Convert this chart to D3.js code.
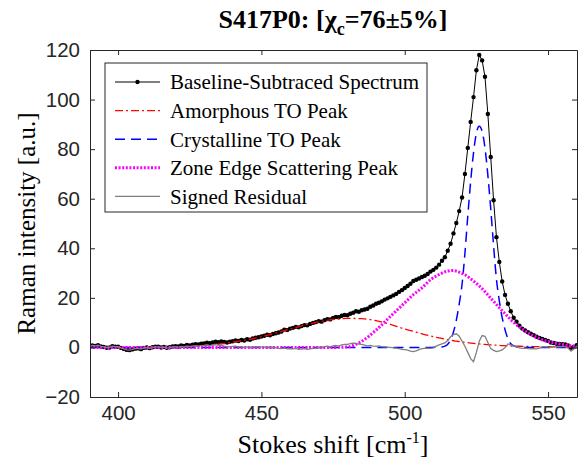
<!DOCTYPE html>
<html>
<head>
<meta charset="utf-8">
<script src="https://cdn.jsdelivr.net/npm/d3@7"></script>
<style>
  body { margin: 0; background: #fff; }
  svg { display: block; }
  .axis text { font-family: "Liberation Sans", Arial, sans-serif; font-size: 20.5px; fill: #262626; }
  .axis path, .axis line { stroke: #262626; }
  .serif { font-family: "Liberation Serif", "Times New Roman", serif; fill: #000; }
</style>
</head>
<body>
<script>
// spectrum sampled every 1 cm^-1
const shift = [
  390,391,392,393,394,395,396,397,398,399,
  400,401,402,403,404,405,406,407,408,409,
  410,411,412,413,414,415,416,417,418,419,
  420,421,422,423,424,425,426,427,428,429,
  430,431,432,433,434,435,436,437,438,439,
  440,441,442,443,444,445,446,447,448,449,
  450,451,452,453,454,455,456,457,458,459,
  460,461,462,463,464,465,466,467,468,469,
  470,471,472,473,474,475,476,477,478,479,
  480,481,482,483,484,485,486,487,488,489,
  490,491,492,493,494,495,496,497,498,499,
  500,501,502,503,504,505,506,507,508,509,
  510,511,512,513,514,515,516,517,518,519,
  520,521,522,523,524,525,526,527,528,529,
  530,531,532,533,534,535,536,537,538,539,
  540,541,542,543,544,545,546,547,548,549,
  550,551,552,553,554,555,556,557,558,559,
  560,561];

const spectrum = [
  0.5,0.8,0.6,0.9,0.4,0.2,-0.1,0.0,0.5,0.3,
  0.3,-0.2,-0.6,-1.0,-1.1,-0.8,-0.5,-0.4,-0.7,-0.2,
  0.0,-0.3,0.1,0.3,0.3,0.0,0.2,-0.1,0.1,0.4,
  0.5,0.4,0.8,0.6,1.0,0.8,1.1,1.3,1.2,1.5,
  1.6,1.9,1.7,2.0,2.3,2.1,2.4,2.2,2.0,2.3,
  2.5,2.8,2.6,3.0,2.8,3.3,3.1,3.6,3.9,4.1,
  4.4,4.7,5.1,4.9,5.4,5.7,6.0,6.4,7.2,7.0,
  7.6,7.9,8.3,8.1,8.6,9.0,8.9,9.5,9.9,10.2,
  10.6,10.4,11.0,11.4,11.3,11.9,12.3,12.2,12.8,13.1,
  13.0,13.6,14.0,14.6,14.4,15.0,15.3,15.6,16.4,16.9,
  17.6,18.0,18.6,19.3,19.8,20.4,21.0,21.6,22.4,23.1,
  24.0,24.8,25.7,26.8,27.3,27.8,28.4,28.9,29.6,30.6,
  31.3,32.2,33.4,35.0,36.4,39.0,41.8,46.0,50.2,55.0,
  60.5,70.0,80.5,91.0,101.0,111.8,118.0,115.8,109.2,94.2,
  76.8,59.4,44.5,34.5,26.6,21.2,17.6,14.6,12.0,10.4,
  8.8,7.6,6.8,6.1,5.5,4.9,4.3,3.8,3.4,3.0,
  2.6,2.0,1.8,1.5,1.4,1.3,1.2,0.8,-0.1,0.2,
  0.9,1.0];

const residual = [
  0.5,0.8,0.6,0.9,0.4,0.2,-0.1,0.0,0.5,0.3,
  0.3,-0.2,-0.6,-1.0,-1.1,-0.8,-0.5,-0.4,-0.7,-0.2,
  -0.1,-0.4,0.0,0.2,0.2,-0.1,0.1,-0.3,-0.1,0.2,
  0.25,0.1,0.45,0.2,0.55,0.35,0.55,0.7,0.5,0.7,
  0.8,1.0,0.7,0.9,1.1,0.8,0.9,0.5,0.2,0.3,
  0.4,0.5,0.1,0.3,-0.1,0.2,-0.2,0.1,0.2,0.2,
  0.1,0.1,0.2,-0.3,0.0,-0.1,-0.4,-0.5,-0.2,-0.6,
  -0.5,-0.6,-0.4,-0.8,-0.7,-0.5,-0.8,-0.6,-0.4,-0.3,
  0.0,-0.1,0.3,0.5,0.2,0.6,0.8,0.5,1.0,1.2,
  1.2,1.5,1.7,1.6,1.3,1.2,0.9,0.6,0.8,0.5,
  0.4,0.6,0.3,0.2,0.1,0.0,-0.2,-0.3,-0.5,-0.8,
  -0.9,-1.1,-1.5,-1.7,-1.4,-0.9,-0.5,-0.4,-0.3,-0.4,
  -0.2,0.5,1.0,1.4,1.8,2.8,4.3,5.2,5.5,4.5,
  2.5,0.5,-2.0,-4.5,-5.8,-2.0,2.5,4.8,4.5,2.0,
  -0.5,-1.2,-1.7,-1.4,-1.0,0.0,1.4,1.0,0.5,0.3,
  -0.2,-0.4,-0.3,-0.5,-0.6,-0.5,-0.6,-0.3,0.2,0.3,
  0.1,0.0,0.2,0.3,0.2,0.3,0.3,-0.3,-1.5,-0.6,
  0.3,0.5];

// fitted peaks, sampled on a coarser grid
const fitShift = [390,400,410,420,425,430,435,440,445,450,455,460,465,470,475,480,485,490,495,500,
  503,506,509,511,513,514,515,516,517,518,519,520,521,522,523,524,525,526,527,528,
  529,530,531,532,533,534,535,536,537,538,539,540,542,544,546,548,550,553,556,561];

const amorphous = [0,0.02,0.06,0.25,0.46,0.8,1.3,2.1,3.1,4.3,5.8,7.4,9.0,10.3,11.3,11.7,11.6,10.8,9.3,7.4,
  6.5,5.5,4.6,4.1,3.6,3.35,3.1,2.9,2.7,2.5,2.35,2.2,2.05,1.9,1.75,1.6,1.5,1.4,1.3,1.2,
  1.1,1.0,0.95,0.9,0.8,0.75,0.7,0.65,0.6,0.55,0.5,0.48,0.42,0.38,0.33,0.3,0.27,0.23,0.2,0.15];

const crystalline = [0,0,0,0,0,0,0,0,0,0,0,0,0,0,0,0,0,0,0,0,
  0,0,0,0.05,0.2,0.5,1.3,3.0,6.2,11,17.5,25.5,38,53,67,78.5,86.5,89.2,87.2,80.5,
  69.5,56,41,27.5,18.8,12,7.1,3.5,1.5,0.6,0.25,0.1,0,0,0,0,0,0,0,0];

const zoneEdge = [0,0,0,0,0,0,0,0,0,0,0,0,0,0,0,0.2,2.5,7.0,12.5,18.0,
  21.3,24.0,27.3,28.8,30.0,30.5,30.8,31.0,31.0,30.8,30.4,29.9,29.3,28.6,27.7,26.8,25.8,24.8,23.7,22.5,
  21.2,19.9,18.6,17.3,16.0,14.8,13.6,12.4,11.2,10.1,9.1,8.2,6.6,5.2,4.1,3.1,2.4,1.6,1.0,0.4];

const xTicks = [400, 450, 500, 550];
const yTicks = [-20, 0, 20, 40, 60, 80, 100, 120];
const legendLabels = ["Baseline-Subtraced Spectrum", "Amorphous TO Peak", "Crystalline TO Peak",
  "Zone Edge Scattering Peak", "Signed Residual"];

const W = 582, H = 471,
    plot = {left: 90, right: 577, top: 50, bottom: 397};

const x = d3.scaleLinear().domain([390.2, 560.1]).range([plot.left, plot.right]),
    y = d3.scaleLinear().domain([-20, 120]).range([plot.bottom, plot.top]);

const svg = d3.select("body").append("svg").attr("width", W).attr("height", H);

svg.append("defs").append("clipPath").attr("id", "clip")
  .append("rect")
    .attr("x", plot.left).attr("y", plot.top)
    .attr("width", plot.right - plot.left).attr("height", plot.bottom - plot.top);

const styles = [
  {color: "#000", width: 1, dash: null},
  {color: "#ff0000", width: 1.3, dash: "8,3,2,3"},
  {color: "#0000ff", width: 1.5, dash: "10,6"},
  {color: "#ff00ff", width: 3, dash: "2,1.6"},
  {color: "#808080", width: 1.3, dash: null}
];

const specRows = shift.map((s, i) => ({s: s, v: spectrum[i], r: residual[i]})),
    fitRows = fitShift.map((s, i) => ({s: s, a: amorphous[i], c: crystalline[i], z: zoneEdge[i]}));

const g = svg.append("g").attr("clip-path", "url(#clip)");

const specLine = d3.line().x(d => x(d.s)).y(d => y(d.v)),
    resLine = d3.line().x(d => x(d.s)).y(d => y(d.r)),
    fitLine = key => d3.line().x(d => x(d.s)).y(d => y(d[key])).curve(d3.curveMonotoneX);

g.append("path").attr("d", specLine(specRows))
  .attr("fill", "none").attr("stroke", styles[0].color).attr("stroke-width", styles[0].width);

g.selectAll("circle.pt").data(specRows).join("circle")
  .attr("class", "pt")
  .attr("cx", d => x(d.s)).attr("cy", d => y(d.v)).attr("r", 2.2)
  .attr("fill", "#000");

["a", "c", "z"].forEach((k, i) => {
  const st = styles[i + 1];
  g.append("path").attr("d", fitLine(k)(fitRows))
    .attr("fill", "none").attr("stroke", st.color).attr("stroke-width", st.width)
    .attr("stroke-dasharray", st.dash);
});

g.append("path").attr("d", resLine(specRows))
  .attr("fill", "none").attr("stroke", styles[4].color).attr("stroke-width", styles[4].width);

// box axes, ticks pointing inward
svg.append("g").attr("class", "axis")
  .attr("transform", "translate(0," + plot.bottom + ")")
  .call(d3.axisBottom(x).tickValues(xTicks).tickSizeInner(-5).tickSizeOuter(0).tickPadding(8));
svg.append("g").attr("class", "axis")
  .attr("transform", "translate(0," + plot.top + ")")
  .call(d3.axisTop(x).tickValues(xTicks).tickSizeInner(-5).tickSizeOuter(0).tickFormat(""));
svg.append("g").attr("class", "axis")
  .attr("transform", "translate(" + plot.left + ",0)")
  .call(d3.axisLeft(y).tickValues(yTicks).tickSizeInner(-5).tickSizeOuter(0).tickPadding(10));
svg.append("g").attr("class", "axis")
  .attr("transform", "translate(" + plot.right + ",0)")
  .call(d3.axisRight(y).tickValues(yTicks).tickSizeInner(-5).tickSizeOuter(0).tickFormat(""));

// legend
const leg = svg.append("g");
leg.append("rect")
  .attr("x", 105).attr("y", 63).attr("width", 322).attr("height", 149)
  .attr("fill", "#fff").attr("stroke", "#262626");

legendLabels.forEach((lab, i) => {
  const ly = 82 + i * 28.6, st = styles[i];
  leg.append("line")
    .attr("x1", 115).attr("x2", 160).attr("y1", ly).attr("y2", ly)
    .attr("stroke", st.color).attr("stroke-width", st.width).attr("stroke-dasharray", st.dash);
  if (i === 0) leg.append("circle").attr("cx", 137.5).attr("cy", ly).attr("r", 2.2).attr("fill", "#000");
  leg.append("text").attr("class", "serif")
    .attr("x", 170).attr("y", ly).attr("dy", "0.35em")
    .style("font-size", "21px")
    .text(lab);
});

// title
const title = svg.append("text").attr("class", "serif")
  .attr("x", 333).attr("y", 28).attr("text-anchor", "middle")
  .style("font-size", "26px").style("font-weight", "bold");
title.append("tspan").text("S417P0: [χ");
title.append("tspan").attr("dy", 7).style("font-size", "18px").text("c");
title.append("tspan").attr("dy", -7).text("=76±5%]");

// axis labels
const xl = svg.append("text").attr("class", "serif")
  .attr("x", 333).attr("y", 453).attr("text-anchor", "middle")
  .style("font-size", "26px");
xl.append("tspan").text("Stokes shift [cm");
xl.append("tspan").attr("dy", -10).style("font-size", "16px").text("-1");
xl.append("tspan").attr("dy", 10).text("]");

svg.append("text").attr("class", "serif")
  .attr("transform", "translate(35," + ((plot.top + plot.bottom) / 2) + ") rotate(-90)")
  .attr("text-anchor", "middle")
  .style("font-size", "25px")
  .text("Raman intensity [a.u.]");
</script>
</body>
</html>
